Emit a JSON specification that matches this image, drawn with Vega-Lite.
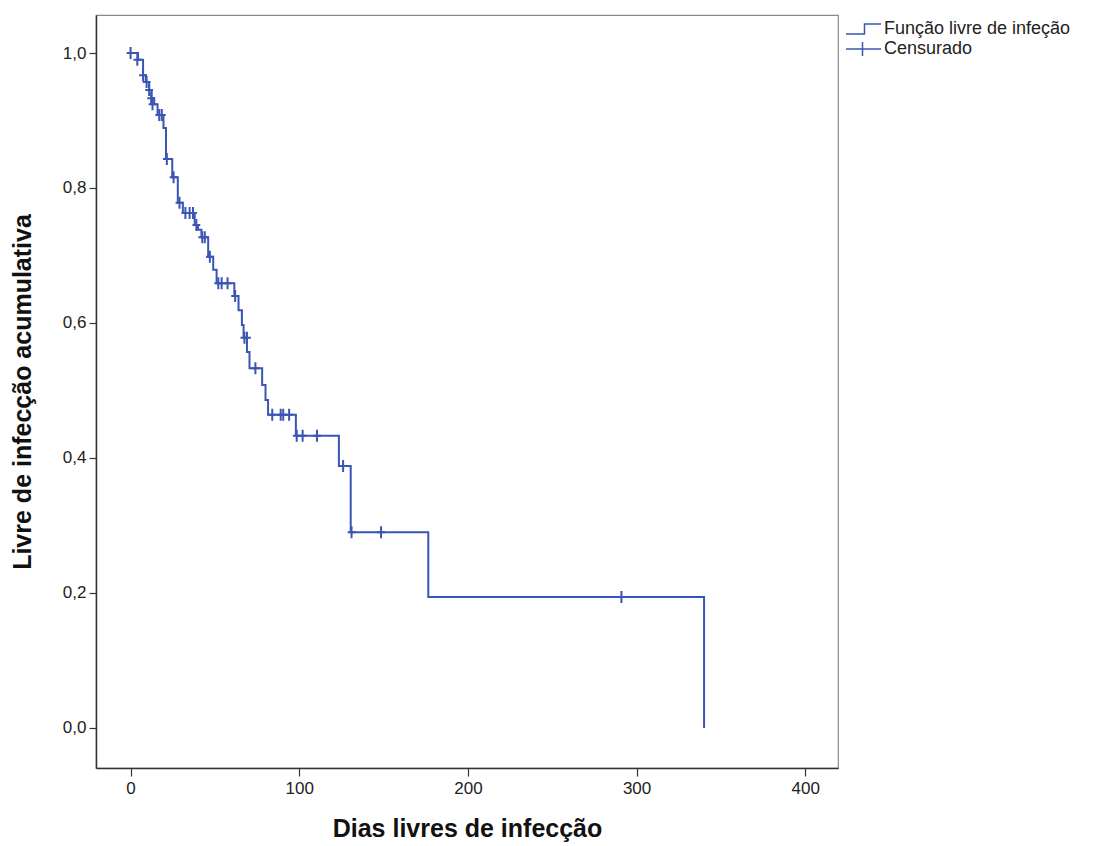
{
  "$schema": "https://vega.github.io/schema/vega-lite/v6.json",
  "width": 742,
  "height": 753,
  "autosize": {"type": "none"},
  "padding": {"left": 96, "top": 15, "right": 255, "bottom": 78},
  "background": "white",
  "datasets": {
    "km": [
      {"t": 0, "s": 1.0},
      {"t": 4.4, "s": 0.99},
      {"t": 7.4, "s": 0.967},
      {"t": 9, "s": 0.957},
      {"t": 11, "s": 0.945},
      {"t": 12.5, "s": 0.933},
      {"t": 14, "s": 0.924},
      {"t": 16, "s": 0.908},
      {"t": 19.5, "s": 0.889},
      {"t": 21, "s": 0.843},
      {"t": 24.7, "s": 0.816},
      {"t": 28, "s": 0.778},
      {"t": 31, "s": 0.763},
      {"t": 38, "s": 0.745},
      {"t": 40, "s": 0.738},
      {"t": 42, "s": 0.727},
      {"t": 46, "s": 0.698},
      {"t": 49, "s": 0.679},
      {"t": 51, "s": 0.659},
      {"t": 61.5, "s": 0.64},
      {"t": 64, "s": 0.619},
      {"t": 66, "s": 0.597},
      {"t": 67, "s": 0.578},
      {"t": 69, "s": 0.557},
      {"t": 70.5, "s": 0.533},
      {"t": 78, "s": 0.508},
      {"t": 80, "s": 0.486},
      {"t": 81.5, "s": 0.464},
      {"t": 98, "s": 0.433},
      {"t": 123.5, "s": 0.388},
      {"t": 130.5, "s": 0.29},
      {"t": 176.5, "s": 0.194},
      {"t": 340, "s": 0.0}
    ],
    "cens": [
      {"t": 0, "s": 1.0},
      {"t": 4, "s": 0.99},
      {"t": 7.4, "s": 0.967},
      {"t": 9.5, "s": 0.957},
      {"t": 11, "s": 0.945},
      {"t": 12.2, "s": 0.933},
      {"t": 13, "s": 0.924},
      {"t": 17, "s": 0.908},
      {"t": 18.5, "s": 0.908},
      {"t": 21.5, "s": 0.843},
      {"t": 25.5, "s": 0.816},
      {"t": 29, "s": 0.778},
      {"t": 32.5, "s": 0.763},
      {"t": 35, "s": 0.763},
      {"t": 37, "s": 0.763},
      {"t": 39, "s": 0.745},
      {"t": 42.5, "s": 0.727},
      {"t": 44, "s": 0.727},
      {"t": 47, "s": 0.698},
      {"t": 52, "s": 0.659},
      {"t": 54, "s": 0.659},
      {"t": 57.5, "s": 0.659},
      {"t": 62, "s": 0.64},
      {"t": 67.5, "s": 0.578},
      {"t": 69, "s": 0.578},
      {"t": 74, "s": 0.533},
      {"t": 84, "s": 0.464},
      {"t": 89, "s": 0.464},
      {"t": 90.5, "s": 0.464},
      {"t": 94, "s": 0.464},
      {"t": 98.5, "s": 0.433},
      {"t": 102, "s": 0.433},
      {"t": 110.5, "s": 0.433},
      {"t": 126, "s": 0.388},
      {"t": 131, "s": 0.29},
      {"t": 148.5, "s": 0.29},
      {"t": 291, "s": 0.194}
    ]
  },
  "layer": [
    {
      "data": {"name": "km"},
      "mark": {"type": "line", "interpolate": "step-after", "strokeWidth": 2},
      "encoding": {
        "x": {
          "field": "t", "type": "quantitative",
          "scale": {"domain": [-20.5, 419.4], "nice": false, "zero": false},
          "axis": {"values": [0, 100, 200, 300, 400], "title": "Dias livres de infecção"}
        },
        "y": {
          "field": "s", "type": "quantitative",
          "scale": {"domain": [-0.0593, 1.0563], "nice": false, "zero": false},
          "axis": {
            "values": [0, 0.2, 0.4, 0.6, 0.8, 1.0],
            "labelExpr": "replace(format(datum.value, '.1f'), '.', ',')",
            "title": "Livre de infecção acumulativa",
            "titlePadding": 27
          }
        },
        "color": {
          "datum": "Função livre de infeção",
          "scale": {"domain": ["Função livre de infeção", "Censurado"], "range": ["#3a55b4", "#3a55b4"]},
          "legend": {
            "title": null,
            "orient": "none",
            "legendX": 756.5,
            "legendY": 3,
            "padding": 0,
            "rowPadding": 0,
            "symbolSize": 400,
            "symbolStrokeWidth": 1.5,
            "symbolFillColor": "transparent",
            "symbolStrokeColor": "#3a55b4",
            "labelFont": "Liberation Sans",
            "labelFontSize": 18,
            "labelLimit": 400,
            "labelColor": "#222222",
            "labelOffset": 9.5,
            "encode": {
              "symbols": {
                "update": {
                  "shape": {"signal": "datum.value == 'Censurado' ? 'M-1.75,0L1.75,0M-0.1,-0.7L-0.1,0.7' : 'M-1.75,0.5L0.1,0.5L0.1,-0.5L1.75,-0.5'"},
                  "fill": {"value": "transparent"},
                  "stroke": {"value": "#3a55b4"},
                  "strokeWidth": {"value": 1.5}
                }
              }
            }
          }
        }
      }
    },
    {
      "data": {"name": "cens"},
      "mark": {"type": "point", "shape": "M-0.65,0L0.65,0M0,-1L0,1", "filled": false, "size": 144, "strokeWidth": 2, "opacity": 1},
      "encoding": {
        "x": {"field": "t", "type": "quantitative"},
        "y": {"field": "s", "type": "quantitative"},
        "color": {"datum": "Censurado"}
      }
    }
  ],
  "config": {
    "view": {"stroke": "#8a8a8a", "strokeWidth": 1.2},
    "axis": {
      "grid": false,
      "domainColor": "#333333",
      "domainWidth": 1.5,
      "tickColor": "#333333",
      "tickWidth": 1.2,
      "tickSize": 7,
      "labelFont": "Liberation Sans",
      "labelFontSize": 17,
      "labelColor": "#222222",
      "labelPadding": 3,
      "titleFont": "Liberation Sans",
      "titleFontSize": 25,
      "titleFontWeight": "bold",
      "titleColor": "#111111"
    },
    "axisX": {"tickSize": 8, "labelPadding": 4, "titlePadding": 20}
  }
}
